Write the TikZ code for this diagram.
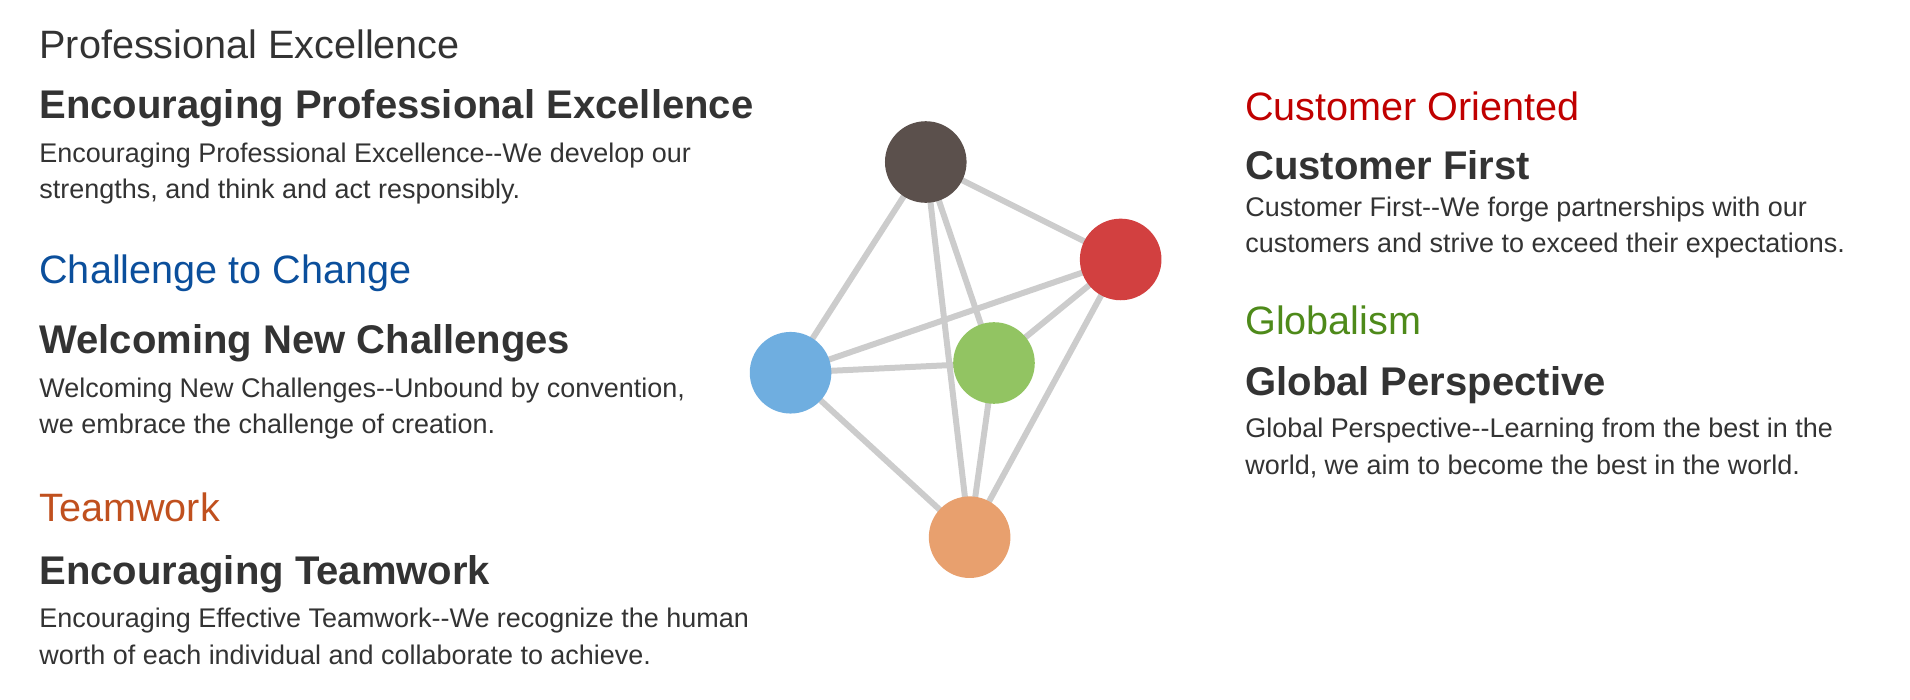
\documentclass[tikz,border=0pt]{standalone}
\usepackage{fontspec}
\setmainfont{Liberation Sans}
\definecolor{txt}{HTML}{333333}
\definecolor{cblue}{HTML}{0B4F9C}
\definecolor{corange}{HTML}{C0501E}
\definecolor{cred}{HTML}{C00000}
\definecolor{cgreen}{HTML}{4E8A1A}
\definecolor{dbrown}{HTML}{5B504C}
\definecolor{dred}{HTML}{D24040}
\definecolor{dblue}{HTML}{6FAEE0}
\definecolor{dgreen}{HTML}{92C462}
\definecolor{dorange}{HTML}{E8A06E}
\definecolor{edge}{HTML}{CCCCCC}
\begin{document}
\begin{tikzpicture}[x=0.02cm,y=-0.02cm,
  cat/.style={anchor=base west,inner sep=0,font=\fontsize{18.5}{21}\selectfont},
  head/.style={anchor=base west,inner sep=0,text=txt,font=\fontsize{18.7}{22}\selectfont\bfseries},
  body/.style={anchor=base west,inner sep=0,text=txt,align=left,font=\fontsize{12.6}{17}\selectfont},
  dot/.style={circle,minimum size=1.34cm,inner sep=0},
  link/.style={draw=edge,line width=2.8pt}]
\useasboundingbox (0,0) rectangle (1568,574);
\node[dot] (a) at (760,133) {};
\node[dot] (b) at (920,213) {};
\node[dot] (c) at (649,306) {};
\node[dot] (d) at (816,298) {};
\node[dot] (e) at (796,441) {};
\foreach \p/\q in {a/b,a/c,a/d,a/e,b/c,b/d,b/e,c/d,c/e,d/e}
  \draw[link] (\p.center) -- (\q.center);
\foreach \n/\col in {a/dbrown,b/dred,c/dblue,d/dgreen,e/dorange}
  \fill[\col] (\n) circle (0.67cm);
\node[cat,text=txt] (t1) at (32,48) {Professional Excellence};
\node[head] (h1) at (32,97) {Encouraging Professional Excellence};
\node[body,anchor=north west] (b1) at (32,117) {Encouraging Professional Excellence-{}-We develop our\\strengths, and think and act responsibly.};
\node[cat,text=cblue] (t2) at (32,233) {Challenge to Change};
\node[head] (h2) at (32,290) {Welcoming New Challenges};
\node[body,anchor=north west] (b2) at (32,310) {Welcoming New Challenges-{}-Unbound by convention,\\we embrace the challenge of creation.};
\node[cat,text=corange] (t3) at (32,428) {Teamwork};
\node[head] (h3) at (32,480) {Encouraging Teamwork};
\node[body,anchor=north west] (b3) at (32,499) {Encouraging Effective Teamwork-{}-We recognize the human\\worth of each individual and collaborate to achieve.};
\node[cat,text=cred] (t4) at (1022,99) {Customer Oriented};
\node[head] (h4) at (1022,147) {Customer First};
\node[body,anchor=north west] (b4) at (1022,161) {Customer First-{}-We forge partnerships with our\\customers and strive to exceed their expectations.};
\node[cat,text=cgreen] (t5) at (1022,275) {Globalism};
\node[head] (h5) at (1022,325) {Global Perspective};
\node[body,anchor=north west] (b5) at (1022,343) {Global Perspective-{}-Learning from the best in the\\world, we aim to become the best in the world.};
\end{tikzpicture}
\end{document}
